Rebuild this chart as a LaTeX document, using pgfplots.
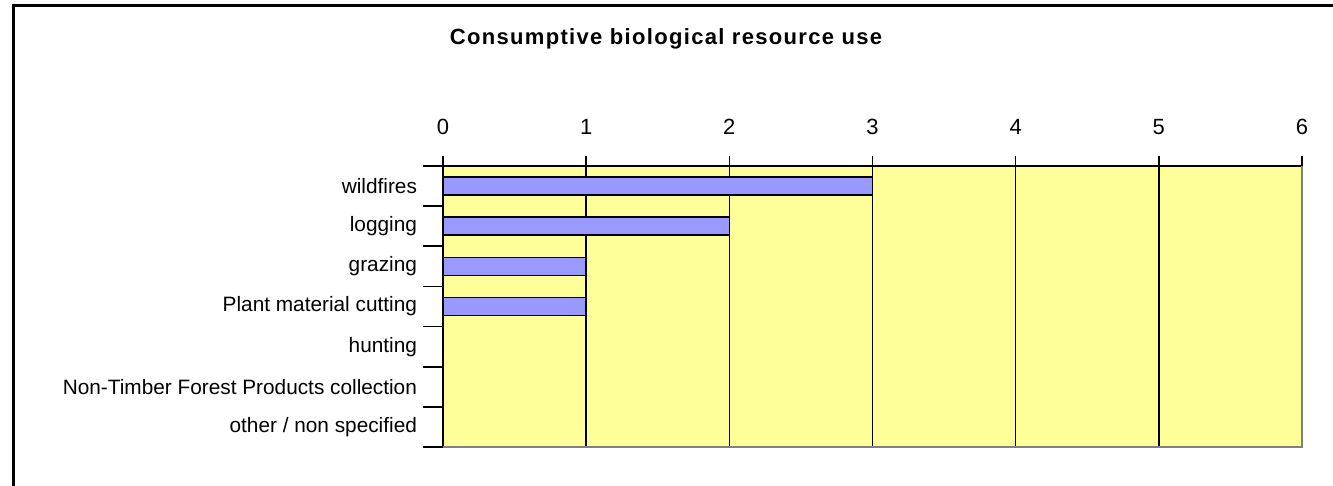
\documentclass[border=0pt]{standalone}
\usepackage{pgfplots}
\pgfplotsset{compat=1.18}
\usepackage{fontspec}
\setmainfont{Liberation Sans}
\definecolor{barBlue}{HTML}{9999FF}
\definecolor{bgYellow}{HTML}{FFFF99}
\definecolor{edgeGray}{HTML}{808080}

\begin{document}
\begin{tikzpicture}
\useasboundingbox (0pt,0pt) rectangle (666.5pt,243pt);
% chart area frame (runs off the right and bottom edge)
\draw[line width=1.1pt] (6.75pt,-5pt) -- (6.75pt,240.25pt) -- (672pt,240.25pt);
\node[font=\fontsize{11}{13}\selectfont\bfseries\addfontfeatures{LetterSpace=6}] at (333pt,223.5pt) {Consumptive biological resource use};
\begin{axis}[
    name=main,
    at={(221.5pt,19.5pt)}, anchor=south west,
    scale only axis,
    width=429.5pt, height=140.5pt,
    xbar, bar width=9pt, bar shift=0pt,
    xmin=0, xmax=6,
    ymin=-0.5, ymax=6.5,
    y dir=reverse,
    axis x line*=top, axis y line*=left,
    axis line style={black, line width=0.8pt},
    axis background/.style={fill=bgYellow},
    xtick={0,1,...,6},
    /pgf/number format/assume math mode=true,
    xticklabel style={font=\fontsize{11}{12}\selectfont, yshift=7pt},
    x tick style={black, line width=0.8pt},
    xmajorgrids, major x grid style={black, line width=0.75pt},
    ytick={0,...,6},
    yticklabels={wildfires, logging, grazing, Plant material cutting\hspace{4pt}, hunting, Non-Timber Forest Products collection, other / non specified},
    yticklabel style={font=\fontsize{10.4}{12}\selectfont, xshift=-4.5pt},
    y tick style={draw=none},
    minor ytick={-0.5,0.5,...,6.5},
    minor y tick style={draw=black, line width=0.8pt},
    minor tick length=10pt,
    tick align=outside,
    major tick length=5pt,
    clip=false,
]
\addplot[fill=barBlue, draw=black, line width=0.75pt] coordinates {
    (3,0) (2,1) (1,2) (1,3) (0,4) (0,5) (0,6)
};
\end{axis}
\draw[edgeGray, line width=0.8pt] (main.north east) -- (main.south east) -- (main.south west);
\end{tikzpicture}
\end{document}
